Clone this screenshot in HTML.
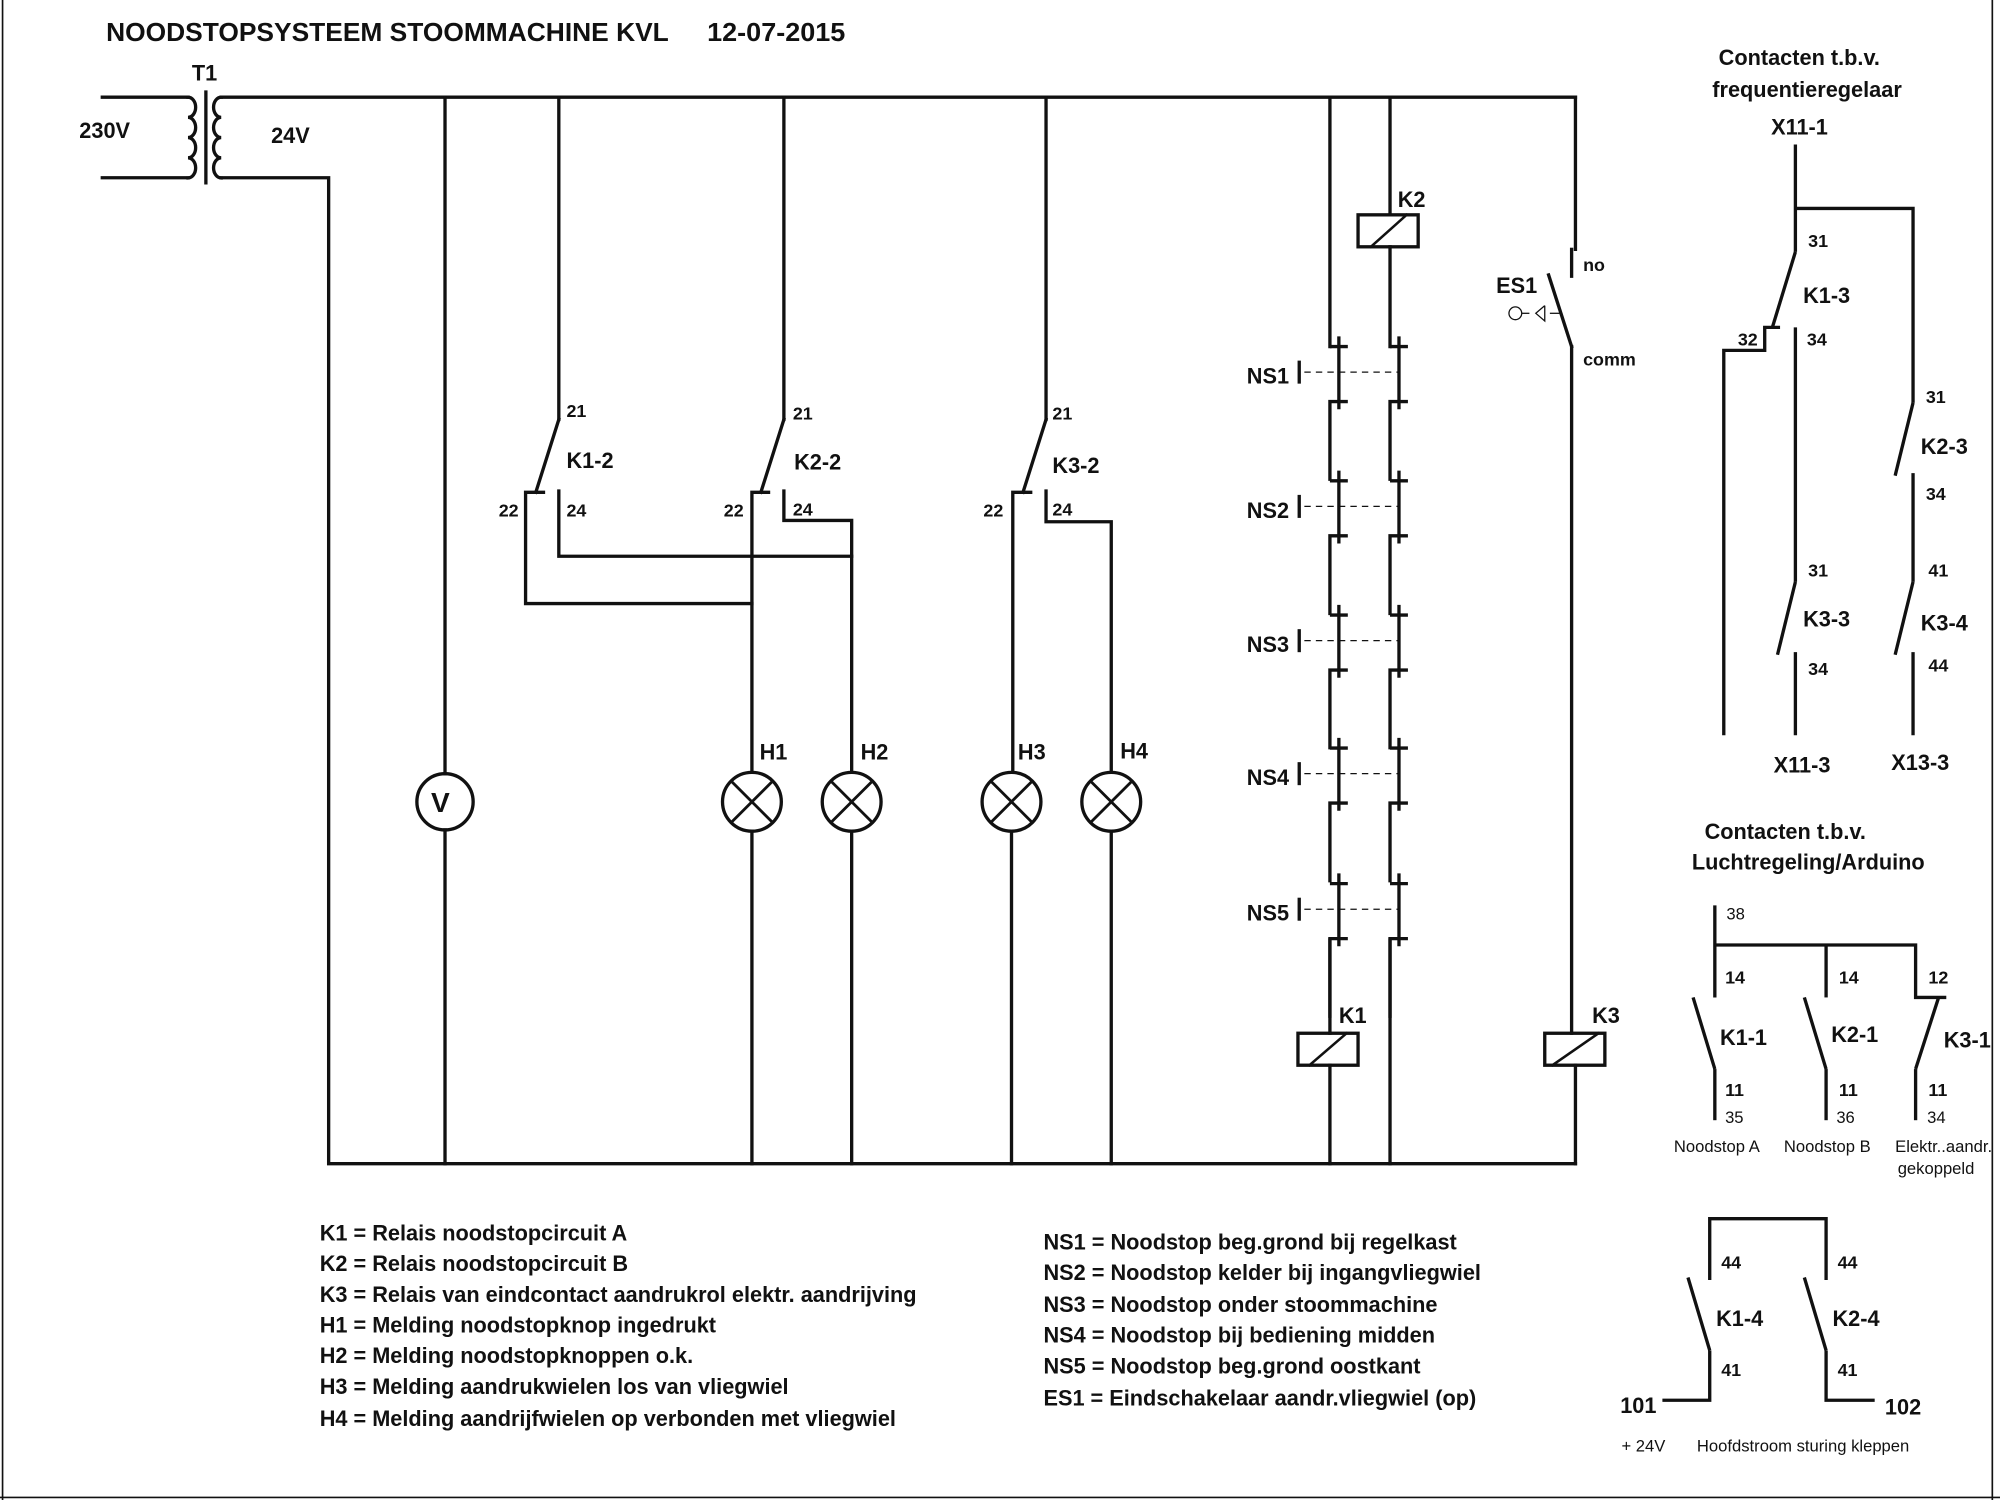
<!DOCTYPE html>
<html><head><meta charset="utf-8"><style>
html,body{margin:0;padding:0;background:#fff;}
svg{display:block;}
text{font-family:"Liberation Sans",sans-serif;fill:#111;}
.b{font-weight:bold;}
</style></head><body>
<svg width="2000" height="1500" viewBox="0 0 1564 1173" preserveAspectRatio="none" xmlns="http://www.w3.org/2000/svg">
<rect x="0" y="0" width="1564" height="1173" fill="#fff"/>
<g stroke="#111" stroke-width="1.3" fill="none">
<line x1="1558" y1="0" x2="1558" y2="1173"/>
<line x1="2" y1="0" x2="2" y2="1173"/>
<line x1="0" y1="1171" x2="1564" y2="1171"/>
</g>
<g stroke="#111" stroke-width="2.6" fill="none" stroke-linecap="square">
<!-- transformer -->
<line x1="80" y1="76" x2="147" y2="76"/>
<line x1="80" y1="139" x2="147" y2="139"/>
<path d="M147 76 a6 7.9 0 0 1 0 15.8 a6 7.9 0 0 1 0 15.8 a6 7.9 0 0 1 0 15.8 a6 7.9 0 0 1 0 15.8"/>
<path d="M173 76 a6 7.9 0 0 0 0 15.8 a6 7.9 0 0 0 0 15.8 a6 7.9 0 0 0 0 15.8 a6 7.9 0 0 0 0 15.8"/>
<line x1="161" y1="72" x2="161" y2="143"/>
<line x1="173" y1="76" x2="1232" y2="76"/>
<polyline points="173,139 257,139 257,910 1232,910"/>
<!-- V -->
<line x1="348" y1="76" x2="348" y2="605"/>
<circle cx="348" cy="627" r="22"/>
<line x1="348" y1="649" x2="348" y2="910"/>
<!-- K1-2 -->
<line x1="437" y1="76" x2="437" y2="328"/>
<line x1="437" y1="328" x2="419" y2="385"/>
<polyline points="425,385 411,385 411,472 588,472"/>
<polyline points="437,384 437,435 666,435"/>
<!-- K2-2 -->
<line x1="613" y1="76" x2="613" y2="328"/>
<line x1="613" y1="328" x2="595" y2="385"/>
<polyline points="601,385 588,385 588,604"/>
<polyline points="613,384 613,407 666,407 666,604"/>
<circle cx="588" cy="627" r="23"/>
<circle cx="666" cy="627" r="23"/>
<line x1="588" y1="650" x2="588" y2="910"/>
<line x1="666" y1="650" x2="666" y2="910"/>
<!-- K3-2 -->
<line x1="818" y1="76" x2="818" y2="328"/>
<line x1="818" y1="328" x2="800" y2="385"/>
<polyline points="806,385 792,385 792,604"/>
<polyline points="818,384 818,408 869,408 869,604"/>
<circle cx="791" cy="627" r="23"/>
<circle cx="869" cy="627" r="23"/>
<line x1="791" y1="650" x2="791" y2="910"/>
<line x1="869" y1="650" x2="869" y2="910"/>
<!-- ES1 / K3 -->
<line x1="1232" y1="76" x2="1232" y2="195"/>
<line x1="1229" y1="195" x2="1229" y2="216"/>
<line x1="1211" y1="215" x2="1229" y2="271"/>
<line x1="1229" y1="271" x2="1229" y2="808"/>
<rect x="1208" y="808" width="47" height="25"/>
<line x1="1232" y1="833" x2="1232" y2="910"/>
<line x1="1214" y1="833" x2="1250" y2="808" stroke-width="2"/>
<!-- K2 coil -->
<line x1="1087" y1="76" x2="1087" y2="168"/>
<rect x="1062" y="168" width="47" height="25"/>
<line x1="1072" y1="193" x2="1100" y2="168" stroke-width="2"/>
<line x1="1087" y1="193" x2="1087" y2="271"/>
<line x1="1040" y1="76" x2="1040" y2="271"/>
<!-- K1 coil -->
<rect x="1015" y="808" width="47" height="25"/>
<line x1="1024" y1="833" x2="1053" y2="808" stroke-width="2"/>
<line x1="1040" y1="833" x2="1040" y2="910"/>
<line x1="1087" y1="735" x2="1087" y2="910"/>
<line x1="1040" y1="735" x2="1040" y2="808"/>
</g>
<!-- NS contacts -->
<g stroke="#111" stroke-width="2.6" fill="none">
<g id="ns">
<polyline points="1040,271 1054,271"/>
<line x1="1047" y1="263" x2="1047" y2="320"/>
<polyline points="1054,314 1040,314 1040,376"/>
<polyline points="1087,271 1101,271"/>
<line x1="1094" y1="263" x2="1094" y2="320"/>
<polyline points="1101,314 1087,314 1087,376"/>
<line x1="1016" y1="282" x2="1016" y2="300"/>
<line x1="1020" y1="291" x2="1094" y2="291" stroke-width="1" stroke-dasharray="5,4"/>
</g>
<use href="#ns" y="105"/>
<use href="#ns" y="210"/>
<use href="#ns" y="314"/>
<use href="#ns" y="420"/>
</g>
<!-- ES1 actuator -->
<g stroke="#111" stroke-width="1" fill="none">
<circle cx="1185" cy="245" r="5"/>
<line x1="1190" y1="245" x2="1196" y2="245"/>
<polyline points="1208,239 1201,245 1208,251 1208,239"/>
<line x1="1212" y1="245" x2="1220" y2="245"/>
</g>
<!-- lamp crosses -->
<g stroke="#111" stroke-width="2.2">
<line x1="572" y1="611" x2="604" y2="643"/><line x1="604" y1="611" x2="572" y2="643"/>
<line x1="650" y1="611" x2="682" y2="643"/><line x1="682" y1="611" x2="650" y2="643"/>
<line x1="775" y1="611" x2="807" y2="643"/><line x1="807" y1="611" x2="775" y2="643"/>
<line x1="853" y1="611" x2="885" y2="643"/><line x1="885" y1="611" x2="853" y2="643"/>
</g>
<!-- right top contacts -->
<g stroke="#111" stroke-width="2.6" fill="none">
<line x1="1404" y1="113" x2="1404" y2="197"/>
<polyline points="1404,163 1496,163 1496,315"/>
<line x1="1404" y1="197" x2="1386" y2="256"/>
<polyline points="1392,256 1380,256 1380,274 1348,274 1348,575"/>
<line x1="1404" y1="256" x2="1404" y2="455"/>
<line x1="1404" y1="455" x2="1390" y2="512"/>
<line x1="1404" y1="510" x2="1404" y2="575"/>
<line x1="1496" y1="315" x2="1482" y2="372"/>
<line x1="1496" y1="370" x2="1496" y2="455"/>
<line x1="1496" y1="455" x2="1482" y2="512"/>
<line x1="1496" y1="510" x2="1496" y2="575"/>
<line x1="1341" y1="708" x2="1341" y2="780"/>
<polyline points="1341,739 1498,739 1498,780 1522,780"/>
<line x1="1428" y1="739" x2="1428" y2="780"/>
<line x1="1324" y1="780" x2="1341" y2="836"/>
<line x1="1341" y1="836" x2="1341" y2="876"/>
<line x1="1411" y1="780" x2="1428" y2="836"/>
<line x1="1428" y1="836" x2="1428" y2="876"/>
<line x1="1516" y1="780" x2="1498" y2="836"/>
<line x1="1498" y1="836" x2="1498" y2="876"/>
<polyline points="1337,1001 1337,953 1428,953 1428,1001"/>
<line x1="1320" y1="999" x2="1337" y2="1056"/>
<polyline points="1337,1056 1337,1095 1300,1095"/>
<line x1="1411" y1="999" x2="1428" y2="1056"/>
<polyline points="1428,1056 1428,1095 1466,1095"/>
</g>
<!-- texts -->
<g class="b" font-size="20">
<text x="83" y="32" textLength="440" lengthAdjust="spacingAndGlyphs">NOODSTOPSYSTEEM STOOMMACHINE KVL</text>
<text x="553" y="32" textLength="108" lengthAdjust="spacingAndGlyphs">12-07-2015</text>
</g>
<g class="b" font-size="17">
<text x="150" y="63">T1</text>
<text x="62" y="108">230V</text>
<text x="212" y="112">24V</text>
<text x="337" y="635" font-size="22">V</text>
<text x="594" y="594">H1</text>
<text x="673" y="594">H2</text>
<text x="796" y="594">H3</text>
<text x="876" y="593">H4</text>
<text x="443" y="366">K1-2</text>
<text x="621" y="367">K2-2</text>
<text x="823" y="370">K3-2</text>
<text x="1093" y="162">K2</text>
<text x="1047" y="800">K1</text>
<text x="1245" y="800">K3</text>
<text x="1170" y="229">ES1</text>
<text x="975" y="300">NS1</text>
<text x="975" y="405">NS2</text>
<text x="975" y="510">NS3</text>
<text x="975" y="614">NS4</text>
<text x="975" y="720">NS5</text>
<text x="1410" y="237">K1-3</text>
<text x="1502" y="355">K2-3</text>
<text x="1410" y="490">K3-3</text>
<text x="1502" y="493">K3-4</text>
<text x="1345" y="817">K1-1</text>
<text x="1432" y="815">K2-1</text>
<text x="1520" y="819">K3-1</text>
<text x="1342" y="1037">K1-4</text>
<text x="1433" y="1037">K2-4</text>
<text x="1344" y="51">Contacten t.b.v.</text>
<text x="1339" y="76">frequentieregelaar</text>
<text x="1385" y="105">X11-1</text>
<text x="1387" y="604">X11-3</text>
<text x="1479" y="602">X13-3</text>
<text x="1333" y="656">Contacten t.b.v.</text>
<text x="1323" y="680">Luchtregeling/Arduino</text>
<text x="1267" y="1105">101</text>
<text x="1474" y="1106">102</text>
</g>
<g class="b" font-size="14">
<text x="443" y="326">21</text>
<text x="390" y="404">22</text>
<text x="443" y="404">24</text>
<text x="620" y="328">21</text>
<text x="566" y="404">22</text>
<text x="620" y="403">24</text>
<text x="823" y="328">21</text>
<text x="769" y="404">22</text>
<text x="823" y="403">24</text>
<text x="1238" y="212">no</text>
<text x="1238" y="286">comm</text>
<text x="1414" y="193">31</text>
<text x="1359" y="270">32</text>
<text x="1413" y="270">34</text>
<text x="1506" y="315">31</text>
<text x="1506" y="391">34</text>
<text x="1414" y="451">31</text>
<text x="1414" y="528">34</text>
<text x="1508" y="451">41</text>
<text x="1508" y="525">44</text>
<text x="1349" y="769">14</text>
<text x="1438" y="769">14</text>
<text x="1508" y="769">12</text>
<text x="1349" y="857">11</text>
<text x="1438" y="857">11</text>
<text x="1508" y="857">11</text>
<text x="1346" y="992">44</text>
<text x="1437" y="992">44</text>
<text x="1346" y="1076">41</text>
<text x="1437" y="1076">41</text>
</g>
<g font-size="13">
<text x="1350" y="719">38</text>
<text x="1349" y="878">35</text>
<text x="1436" y="878">36</text>
<text x="1507" y="878">34</text>
<text x="1309" y="901">Noodstop A</text>
<text x="1395" y="901">Noodstop B</text>
<text x="1482" y="901">Elektr..aandr.</text>
<text x="1484" y="918">gekoppeld</text>
<text x="1268" y="1135">+ 24V</text>
<text x="1327" y="1135">Hoofdstroom sturing kleppen</text>
</g>
<g class="b" font-size="17">
<text x="250" y="970">K1 = Relais noodstopcircuit A</text>
<text x="250" y="994">K2 = Relais noodstopcircuit B</text>
<text x="250" y="1018">K3 = Relais van eindcontact aandrukrol elektr. aandrijving</text>
<text x="250" y="1042">H1 = Melding noodstopknop ingedrukt</text>
<text x="250" y="1066">H2 = Melding noodstopknoppen o.k.</text>
<text x="250" y="1090">H3 = Melding aandrukwielen los van vliegwiel</text>
<text x="250" y="1115">H4 = Melding aandrijfwielen op verbonden met vliegwiel</text>
<text x="816" y="977">NS1 = Noodstop beg.grond bij regelkast</text>
<text x="816" y="1001">NS2 = Noodstop kelder bij ingangvliegwiel</text>
<text x="816" y="1026">NS3 = Noodstop onder stoommachine</text>
<text x="816" y="1050">NS4 = Noodstop bij bediening midden</text>
<text x="816" y="1074">NS5 = Noodstop beg.grond oostkant</text>
<text x="816" y="1099">ES1 = Eindschakelaar aandr.vliegwiel (op)</text>
</g>
</svg>
</body></html>
